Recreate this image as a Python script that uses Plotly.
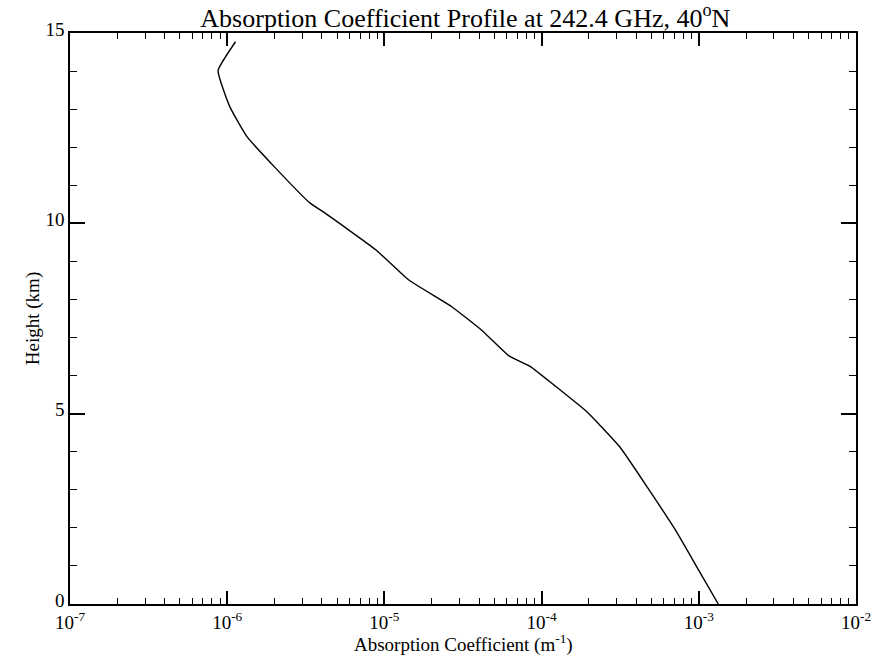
import plotly.graph_objects as go

# Data
absorption = [1.13e-6, 8.75e-7, 1.04e-6, 1.34e-6, 1.99e-6, 3.37e-6, 4.09e-6, 8.85e-6,
              1.43e-5, 2.68e-5, 4.14e-5, 6.24e-5, 8.53e-5, 1.20e-4, 1.94e-4, 3.14e-4,
              4.84e-4, 7.11e-4, 9.98e-4, 1.33e-3]
height = [14.77, 14.01, 13.06, 12.27, 11.49, 10.53, 10.30, 9.30,
          8.51, 7.81, 7.20, 6.51, 6.23, 5.75, 5.05, 4.13,
          2.99, 1.94, 0.89, 0.0]

x_major = [1e-7, 1e-6, 1e-5, 1e-4, 1e-3, 1e-2]
x_labels = ["10<sup>-7</sup>", "10<sup>-6</sup>", "10<sup>-5</sup>",
            "10<sup>-4</sup>", "10<sup>-3</sup>", "10<sup>-2</sup>"]
x_minor = [k * 10.0 ** e for e in range(-7, -2) for k in range(2, 10)]
y_major = [0, 5, 10, 15]
y_minor = [v for v in range(0, 16) if v % 5 != 0]

font_family = "Liberation Serif, DejaVu Serif, serif"

fig = go.Figure()
fig.add_trace(go.Scatter(x=absorption, y=height, mode="lines", line_shape="spline",
                         line=dict(color="black", width=1.4, smoothing=0.4), showlegend=False))

fig.update_layout(
    width=883, height=657,
    margin=dict(l=70, r=17, t=33, b=53),
    paper_bgcolor="white", plot_bgcolor="white",
    font=dict(family=font_family, size=19, color="black"),
    title=dict(text="Absorption Coefficient Profile at 242.4 GHz, 40<sup>o</sup>N",
               x=0.527, xanchor="center", y=0.986, yanchor="top",
               font=dict(size=26, family=font_family, color="black")),
    xaxis=dict(type="log", range=[-7, -2],
               tickmode="array", tickvals=x_major, ticktext=x_labels,
               ticks="inside", ticklen=13, tickwidth=1.5, tickcolor="black",
               minor=dict(tickmode="array", tickvals=x_minor, ticks="inside",
                          ticklen=6, tickwidth=1.2, tickcolor="black", showgrid=False),
               showline=True, linecolor="black", linewidth=1.5, mirror="ticks",
               showgrid=False, zeroline=False, ticklabelstandoff=0,
               tickfont=dict(size=19, family=font_family)),
    yaxis=dict(range=[0, 15],
               tickmode="array", tickvals=y_major,
               ticks="inside", ticklen=15, tickwidth=1.5, tickcolor="black",
               minor=dict(tickmode="array", tickvals=y_minor, ticks="inside",
                          ticklen=7, tickwidth=1.2, tickcolor="black", showgrid=False),
               showline=True, linecolor="black", linewidth=1.5, mirror="ticks",
               showgrid=False, zeroline=False, ticklabelshift=-4,
               tickfont=dict(size=19, family=font_family),
               title=dict(text="Height (km)",
                          font=dict(size=19, family=font_family), standoff=1)),
    annotations=[dict(text="Absorption Coefficient (m<sup>-1</sup>)",
                      xref="paper", yref="paper", x=0.5, y=0, xanchor="center",
                      yanchor="top", yshift=-25, showarrow=False,
                      font=dict(size=19, family=font_family, color="black"))],
)

fig.write_html("out.html")
